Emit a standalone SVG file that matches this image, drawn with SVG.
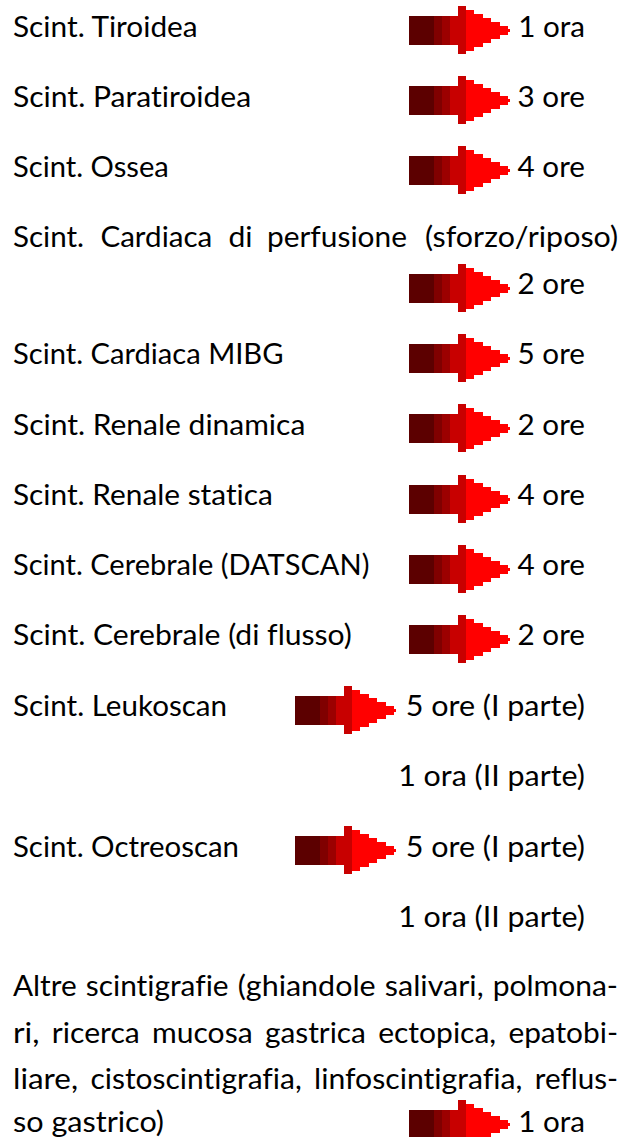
<svg xmlns="http://www.w3.org/2000/svg" xmlns:xlink="http://www.w3.org/1999/xlink" width="623" height="1137" viewBox="0 0 623 1137">
<style>
text{font-family:Lato,"Open Sans","Liberation Sans",sans-serif;font-size:29.5px;fill:#000;font-variant-ligatures:none;font-feature-settings:"liga" 0,"dlig" 0,"clig" 0}
.r{text-anchor:end}
</style>
<defs>
<g id="arrow" shape-rendering="crispEdges">
<rect x="0" y="-14" width="25" height="29" fill="#5C0000"/>
<rect x="25" y="-14" width="8" height="29" fill="#800000"/>
<rect x="33" y="-14" width="8" height="29" fill="#9C0000"/>
<rect x="41" y="-14" width="8" height="29" fill="#C80000"/>
<rect x="49" y="-24" width="8" height="48" fill="#C80000"/>
<polygon fill="#FF0000" points="57,-20 65,-20 65,-16 74,-16 74,-12 82,-12 82,-8 91,-8 91,-4 99,-4 99,-1 101,-1 101,2 99,2 99,5 91,5 91,9 82,9 82,13 74,13 74,17 65,17 65,21 57,21"/>
</g>
</defs>
<rect width="623" height="1137" fill="#fff"/>
<g id="connectors">
<use xlink:href="#arrow" x="409" y="30"/>
<use xlink:href="#arrow" x="409" y="100"/>
<use xlink:href="#arrow" x="409" y="170"/>
<use xlink:href="#arrow" x="409" y="287.5"/>
<use xlink:href="#arrow" x="409" y="357.5"/>
<use xlink:href="#arrow" x="409" y="428"/>
<use xlink:href="#arrow" x="409" y="498.5"/>
<use xlink:href="#arrow" x="409" y="568.5"/>
<use xlink:href="#arrow" x="409" y="638.5"/>
<use xlink:href="#arrow" x="295" y="709.5"/>
<use xlink:href="#arrow" x="295" y="850"/>
<use xlink:href="#arrow" x="409" y="1124"/>
</g>
<g id="tiroidea">
<text x="13" y="37" textLength="184.7" lengthAdjust="spacingAndGlyphs">Scint. Tiroidea</text>
<text class="r" x="585" y="37" textLength="66.8" lengthAdjust="spacingAndGlyphs">1 ora</text>
</g>
<g id="paratiroidea">
<text x="13" y="107" textLength="238.2" lengthAdjust="spacingAndGlyphs">Scint. Paratiroidea</text>
<text class="r" x="585" y="107" textLength="67.4" lengthAdjust="spacingAndGlyphs">3 ore</text>
</g>
<g id="ossea">
<text x="13" y="177" textLength="155.8" lengthAdjust="spacingAndGlyphs">Scint. Ossea</text>
<text class="r" x="585" y="177" textLength="67.4" lengthAdjust="spacingAndGlyphs">4 ore</text>
</g>
<g id="cardiaca-perfusione">
<text x="13" y="247" textLength="71.1" lengthAdjust="spacingAndGlyphs">Scint.</text>
<text x="100.4" y="247" textLength="111.9" lengthAdjust="spacingAndGlyphs">Cardiaca</text>
<text x="228.5" y="247" textLength="24.1" lengthAdjust="spacingAndGlyphs">di</text>
<text x="267" y="247" textLength="139.9" lengthAdjust="spacingAndGlyphs">perfusione</text>
<text x="425" y="247" textLength="193" lengthAdjust="spacingAndGlyphs">(sforzo/riposo)</text>
<text class="r" x="585" y="294" textLength="67.4" lengthAdjust="spacingAndGlyphs">2 ore</text>
</g>
<g id="cardiaca-mibg">
<text x="13" y="364" textLength="270.5" lengthAdjust="spacingAndGlyphs">Scint. Cardiaca MIBG</text>
<text class="r" x="585" y="364" textLength="67.4" lengthAdjust="spacingAndGlyphs">5 ore</text>
</g>
<g id="renale-dinamica">
<text x="13" y="434.5" textLength="292.3" lengthAdjust="spacingAndGlyphs">Scint. Renale dinamica</text>
<text class="r" x="585" y="434.5" textLength="67.4" lengthAdjust="spacingAndGlyphs">2 ore</text>
</g>
<g id="renale-statica">
<text x="13" y="505" textLength="259.8" lengthAdjust="spacingAndGlyphs">Scint. Renale statica</text>
<text class="r" x="585" y="505" textLength="67.4" lengthAdjust="spacingAndGlyphs">4 ore</text>
</g>
<g id="cerebrale-datscan">
<text x="13" y="575" textLength="356.4" lengthAdjust="spacingAndGlyphs">Scint. Cerebrale (DATSCAN)</text>
<text class="r" x="585" y="575" textLength="67.4" lengthAdjust="spacingAndGlyphs">4 ore</text>
</g>
<g id="cerebrale-flusso">
<text x="13" y="645" textLength="338.8" lengthAdjust="spacingAndGlyphs">Scint. Cerebrale (di flusso)</text>
<text class="r" x="585" y="645" textLength="67.4" lengthAdjust="spacingAndGlyphs">2 ore</text>
</g>
<g id="leukoscan">
<text x="13" y="716" textLength="214.1" lengthAdjust="spacingAndGlyphs">Scint. Leukoscan</text>
<text class="r" x="585" y="716" textLength="179.3" lengthAdjust="spacingAndGlyphs">5 ore (I parte)</text>
<text class="r" x="585" y="786" textLength="186.8" lengthAdjust="spacingAndGlyphs">1 ora (II parte)</text>
</g>
<g id="octreoscan">
<text x="13" y="856.5" textLength="226" lengthAdjust="spacingAndGlyphs">Scint. Octreoscan</text>
<text class="r" x="585" y="856.5" textLength="179.3" lengthAdjust="spacingAndGlyphs">5 ore (I parte)</text>
<text class="r" x="585" y="927" textLength="186.8" lengthAdjust="spacingAndGlyphs">1 ora (II parte)</text>
</g>
<g id="altre">
<text x="13" y="996" textLength="63.7" lengthAdjust="spacingAndGlyphs">Altre</text>
<text x="85.8" y="996" textLength="142.8" lengthAdjust="spacingAndGlyphs">scintigrafie</text>
<text x="237.7" y="996" textLength="138" lengthAdjust="spacingAndGlyphs">(ghiandole</text>
<text x="384.8" y="996" textLength="98.8" lengthAdjust="spacingAndGlyphs">salivari,</text>
<text x="492.7" y="996" textLength="125.3" lengthAdjust="spacingAndGlyphs">polmona-</text>
<text x="13" y="1042.5" textLength="26.5" lengthAdjust="spacingAndGlyphs">ri,</text>
<text x="51.8" y="1042.5" textLength="88" lengthAdjust="spacingAndGlyphs">ricerca</text>
<text x="152" y="1042.5" textLength="100.6" lengthAdjust="spacingAndGlyphs">mucosa</text>
<text x="264.9" y="1042.5" textLength="101" lengthAdjust="spacingAndGlyphs">gastrica</text>
<text x="378.2" y="1042.5" textLength="118" lengthAdjust="spacingAndGlyphs">ectopica,</text>
<text x="508.4" y="1042.5" textLength="109.6" lengthAdjust="spacingAndGlyphs">epatobi-</text>
<text x="13" y="1089" textLength="65.1" lengthAdjust="spacingAndGlyphs">liare,</text>
<text x="90.5" y="1089" textLength="211.2" lengthAdjust="spacingAndGlyphs">cistoscintigrafia,</text>
<text x="314.1" y="1089" textLength="208.3" lengthAdjust="spacingAndGlyphs">linfoscintigrafia,</text>
<text x="534.8" y="1089" textLength="83.3" lengthAdjust="spacingAndGlyphs">reflus-</text>
<text x="13" y="1132" textLength="151" lengthAdjust="spacingAndGlyphs">so gastrico)</text>
<text class="r" x="585" y="1132" textLength="66.8" lengthAdjust="spacingAndGlyphs">1 ora</text>
</g>
</svg>
